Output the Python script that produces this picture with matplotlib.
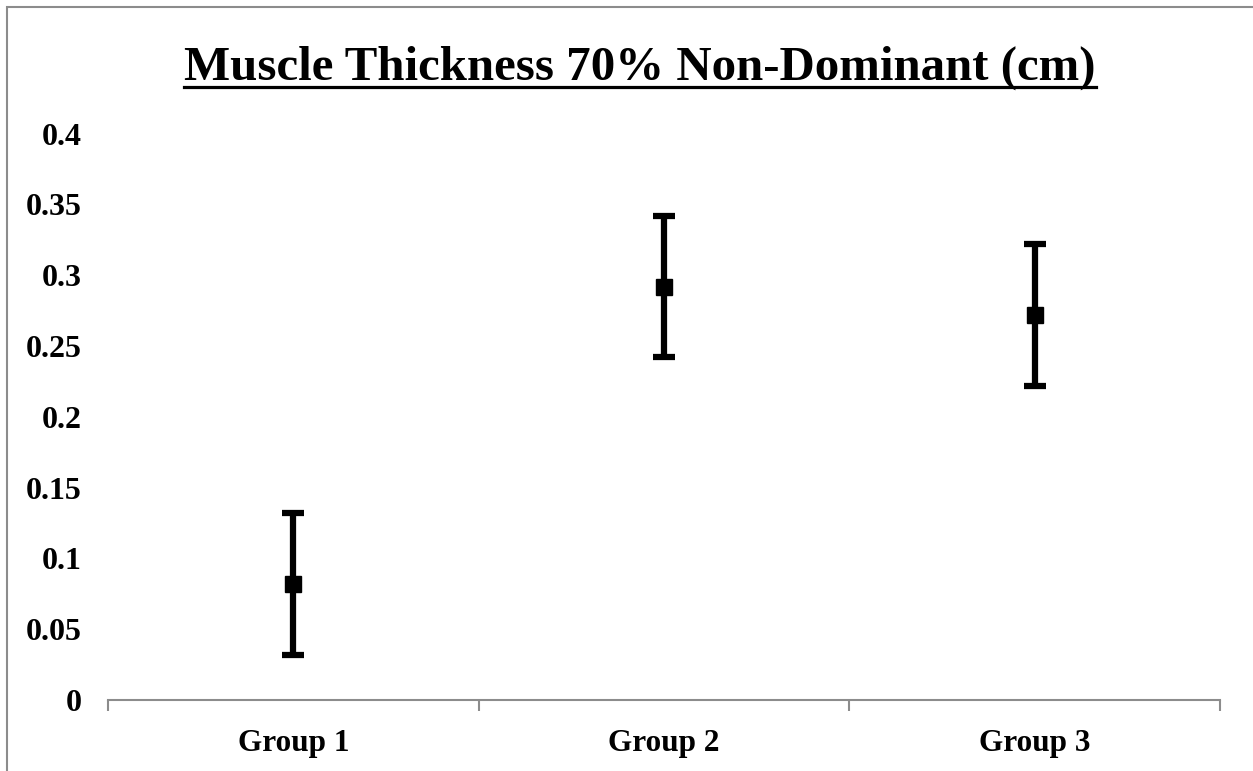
import matplotlib
matplotlib.use("Agg")
import matplotlib.pyplot as plt
import numpy as np
from matplotlib.lines import Line2D
from matplotlib.patches import Rectangle

groups = ["Group 1", "Group 2", "Group 3"]
means = [0.082, 0.292, 0.272]
errors = [0.05, 0.05, 0.05]
yticks = [0, 0.05, 0.1, 0.15, 0.2, 0.25, 0.3, 0.35, 0.4]
ytick_labels = ["0", "0.05", "0.1", "0.15", "0.2", "0.25", "0.3", "0.35", "0.4"]

plt.rcParams["font.family"] = ["Liberation Serif", "DejaVu Serif"]
plt.rcParams["font.weight"] = "bold"

W, H = 1253, 771
fig = plt.figure(figsize=(W / 100, H / 100), dpi=100)
ax = fig.add_axes([108 / W, 1 - 700 / H, (1220 - 108) / W, (700 - 133.7) / H])

x = np.arange(len(groups)) + 0.5
ax.errorbar(x, means, yerr=errors, fmt="s", color="black", ecolor="black",
            markersize=12, elinewidth=4.5, capsize=8, capthick=4.5)

ax.set_xlim(0, len(groups))
ax.set_ylim(0, 0.4)
ax.set_yticks(yticks, ytick_labels, fontsize=23, fontweight="bold")
ax.tick_params(axis="y", length=0, pad=19)

# category labels sit between the boundary tick marks
ax.set_xticks(np.arange(len(groups) + 1))
ax.set_xticklabels([])
ax.set_xticks(x, groups, minor=True, fontsize=22.5, fontweight="bold")
ax.tick_params(axis="x", which="major", direction="out", length=8, width=1.5,
               color="#8c8c8c")
ax.tick_params(axis="x", which="minor", length=0, pad=21)

for side in ["left", "right", "top"]:
    ax.spines[side].set_visible(False)
ax.spines["bottom"].set_color("#8c8c8c")
ax.spines["bottom"].set_linewidth(1.5)

title = fig.text(640 / W, 1 - 80 / H, "Muscle Thickness 70% Non-Dominant (cm)",
                 ha="center", va="baseline", fontsize=35.2, fontweight="bold")

# underline the title
fig.canvas.draw()
bb = title.get_window_extent().transformed(fig.transFigure.inverted())
fig.add_artist(Line2D([bb.x0, bb.x1], [1 - 87 / H, 1 - 87 / H],
                      transform=fig.transFigure, color="black", linewidth=2.3))

# chart area border
fig.add_artist(Rectangle((7 / W, -0.05), 1.1, 1.05 - 7 / H, transform=fig.transFigure,
                         fill=False, edgecolor="#8c8c8c", linewidth=1.5))

fig.savefig("out.png", dpi=100, facecolor="white")
